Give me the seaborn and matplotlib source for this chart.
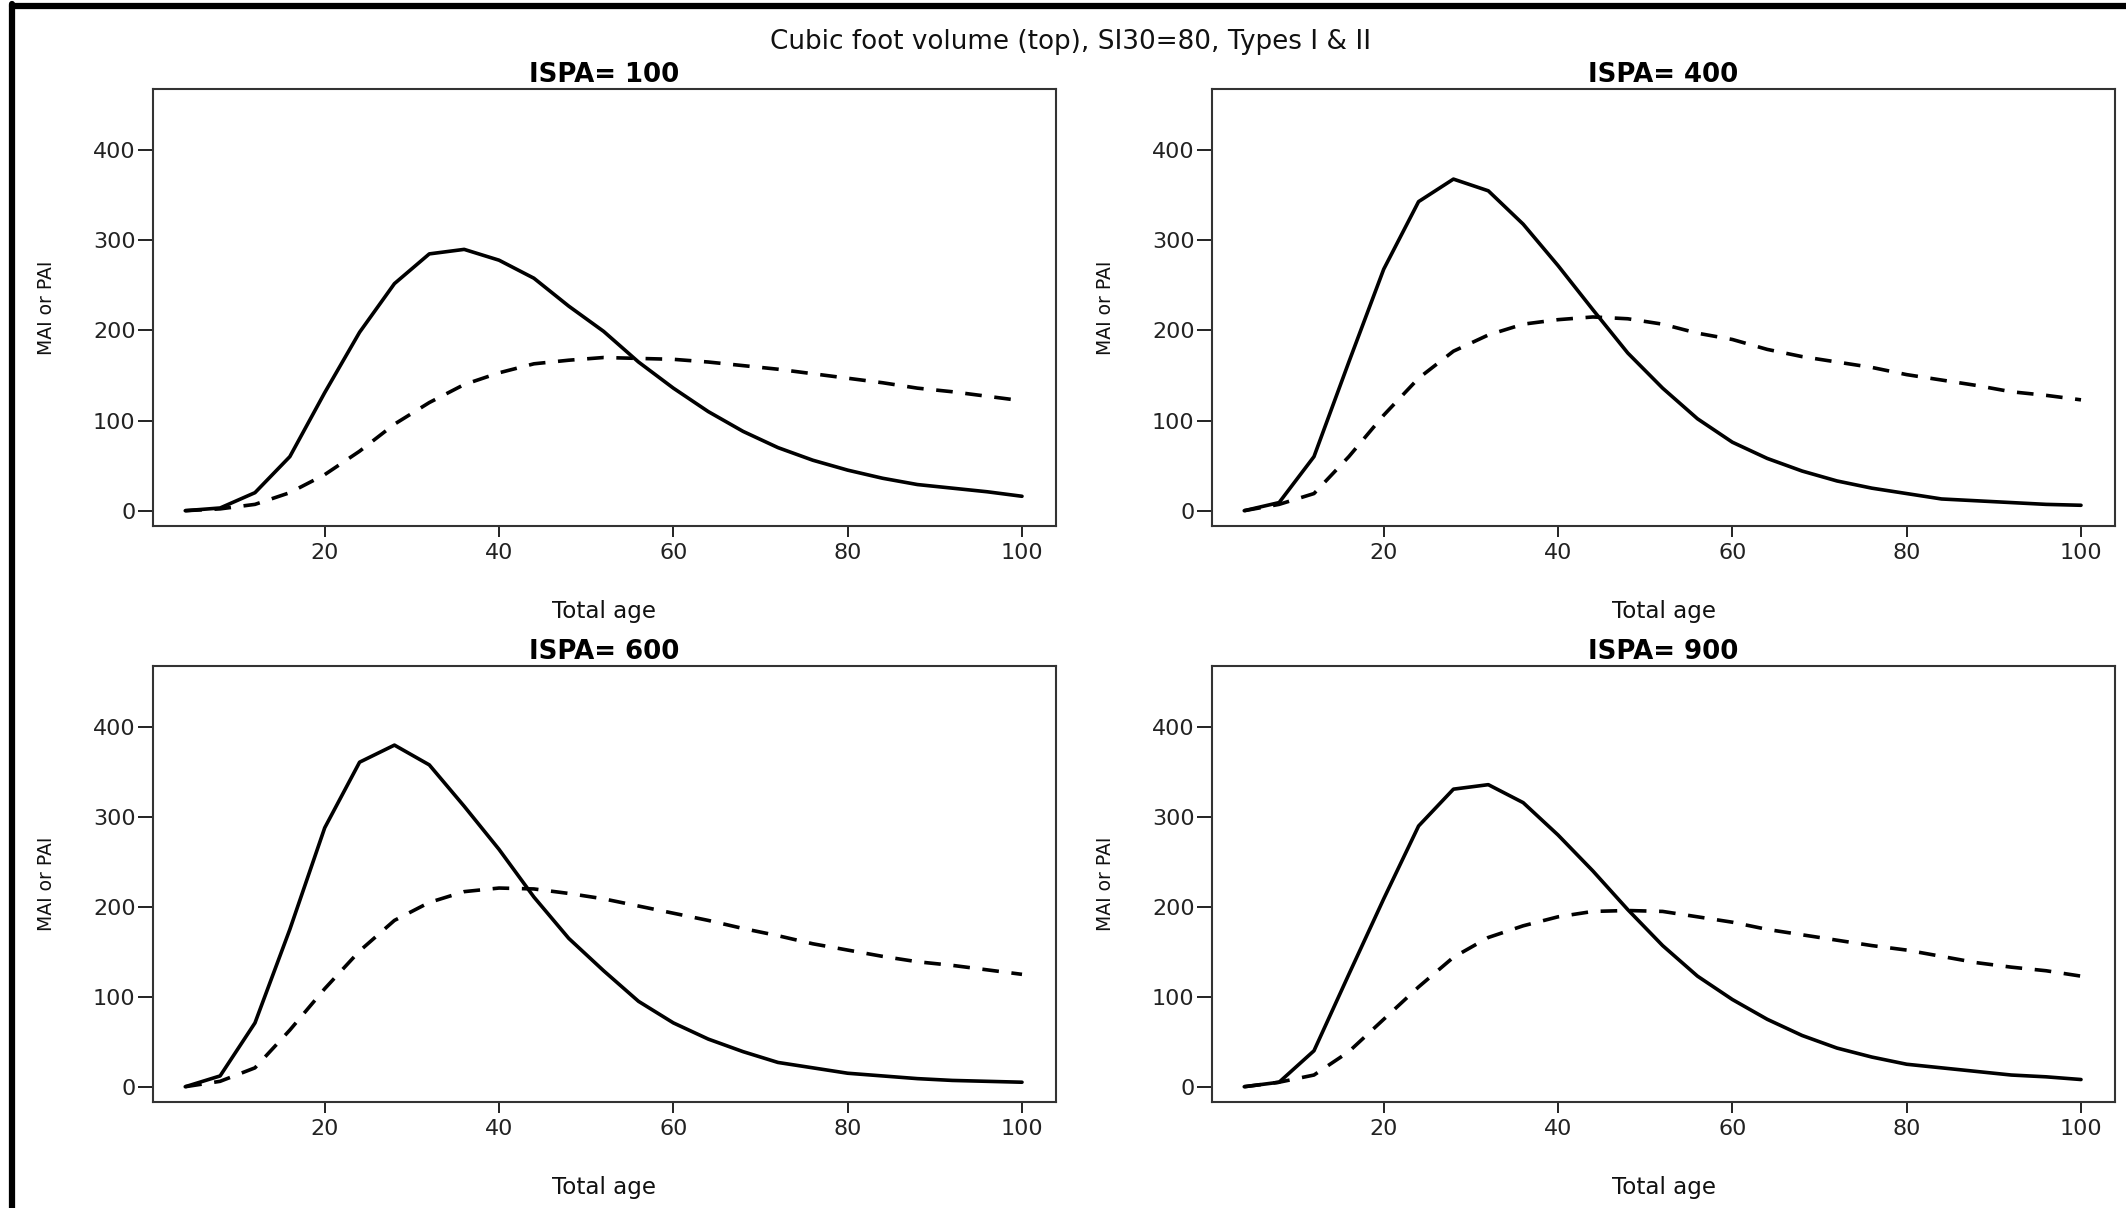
import numpy as np
import pandas as pd
import matplotlib
matplotlib.use("Agg")
import matplotlib.pyplot as plt
import seaborn as sns
from matplotlib.lines import Line2D

# ---------------- data ----------------
ages = list(range(4, 101, 4))
panel_titles = ["ISPA= 100", "ISPA= 400", "ISPA= 600", "ISPA= 900"]

pai_100 = [0, 3, 20, 60, 131, 198, 252, 285, 290, 278, 258, 227, 199, 165, 136, 110, 88, 70, 56, 45, 36, 29, 25, 21, 16]
mai_100 = [0, 2, 7, 20, 40, 66, 96, 120, 140, 153, 163, 167, 170, 169, 168, 165, 161, 157, 152, 147, 142, 136, 132, 127, 122]

pai_400 = [0, 9, 60, 165, 268, 343, 368, 355, 318, 272, 223, 175, 136, 102, 76, 58, 44, 33, 25, 19, 13, 11, 9, 7, 6]
mai_400 = [0, 7, 19, 60, 106, 147, 177, 195, 207, 212, 215, 213, 207, 197, 190, 179, 171, 165, 159, 151, 145, 139, 132, 128, 123]

pai_600 = [0, 12, 71, 175, 288, 361, 380, 358, 312, 264, 211, 165, 129, 95, 71, 53, 39, 27, 21, 15, 12, 9, 7, 6, 5]
mai_600 = [0, 6, 21, 63, 109, 151, 185, 205, 217, 221, 220, 215, 209, 201, 193, 185, 176, 168, 159, 152, 145, 139, 135, 130, 125]

pai_900 = [0, 5, 40, 125, 209, 290, 331, 336, 316, 280, 240, 197, 157, 123, 97, 75, 57, 43, 33, 25, 21, 17, 13, 11, 8]
mai_900 = [0, 5, 13, 39, 75, 111, 144, 166, 179, 189, 195, 196, 195, 189, 183, 175, 169, 163, 157, 152, 145, 138, 133, 129, 123]

x_ticks = [20, 40, 60, 80, 100]
y_ticks = [0, 100, 200, 300, 400]
suptitle = "Cubic foot volume (top), SI30=80, Types I & II"
x_label = "Total age"
y_label = "MAI or PAI"

series = {
    "ISPA= 100": (pai_100, mai_100),
    "ISPA= 400": (pai_400, mai_400),
    "ISPA= 600": (pai_600, mai_600),
    "ISPA= 900": (pai_900, mai_900),
}

rows = []
for title, (pai, mai) in series.items():
    for a, p, m in zip(ages, pai, mai):
        rows.append({"panel": title, "age": a, "value": p, "kind": "PAI"})
        rows.append({"panel": title, "age": a, "value": m, "kind": "MAI"})
df = pd.DataFrame(rows)

# ---------------- style ----------------
sns.set_theme(style="white")
plt.rcParams["font.family"] = ["DejaVu Sans"]

W, H = 2126, 1208
fig = plt.figure(figsize=(W / 100, H / 100), dpi=100)
fig.patch.set_facecolor("white")

def px_rect(left, top, right, bottom):
    return [left / W, 1 - bottom / H, (right - left) / W, (bottom - top) / H]

rects = [
    px_rect(153, 89, 1056, 526),
    px_rect(1212, 89, 2115, 526),
    px_rect(153, 666, 1056, 1102),
    px_rect(1212, 666, 2115, 1102),
]

for title, rect in zip(panel_titles, rects):
    ax = fig.add_axes(rect)
    sub = df[df["panel"] == title]
    sns.lineplot(
        data=sub, x="age", y="value", style="kind",
        style_order=["PAI", "MAI"],
        dashes={"PAI": "", "MAI": (4.6, 3.5)},
        color="black", linewidth=2.6, legend=False, ax=ax,
    )
    for ln in ax.get_lines():
        ln.set_dash_capstyle("butt")
        ln.set_solid_joinstyle("round")
    ax.set_xlim(0.3, 103.9)
    ax.set_ylim(-17, 468)
    ax.set_xticks(x_ticks)
    ax.set_yticks(y_ticks)
    ax.tick_params(axis="x", direction="out", length=8, width=1.4, pad=4,
                   labelsize=16, colors="#222222", bottom=True)
    ax.tick_params(axis="y", direction="out", length=11, width=1.4, pad=1.5,
                   labelsize=16, colors="#222222", left=True)
    for sp in ax.spines.values():
        sp.set_visible(True)
        sp.set_linewidth(1.5)
        sp.set_color("#333333")
    ax.set_xlabel(x_label, fontsize=16.6, labelpad=27, color="#111111")
    ax.set_ylabel(y_label, fontsize=13.5, labelpad=27, color="#111111")
    ax.set_title(title, fontsize=18.7, fontweight="bold", pad=5, color="black")
    ax.set_facecolor("white")

fig.text(1071 / W, 1 - 42 / H, suptitle, ha="center", va="center",
         fontsize=18.9, color="#111111")

# frame lines (left edge and top band)
fig.add_artist(Line2D([12 / W, 12 / W], [0, 1 - 4 / H], color="black",
                      linewidth=4.5, transform=fig.transFigure,
                      solid_capstyle="round"))
fig.add_artist(Line2D([12 / W, 1], [1 - 6 / H, 1 - 6 / H], color="black",
                      linewidth=4.5, transform=fig.transFigure,
                      solid_capstyle="round"))

fig.savefig("out.png", dpi=100, facecolor="white")
